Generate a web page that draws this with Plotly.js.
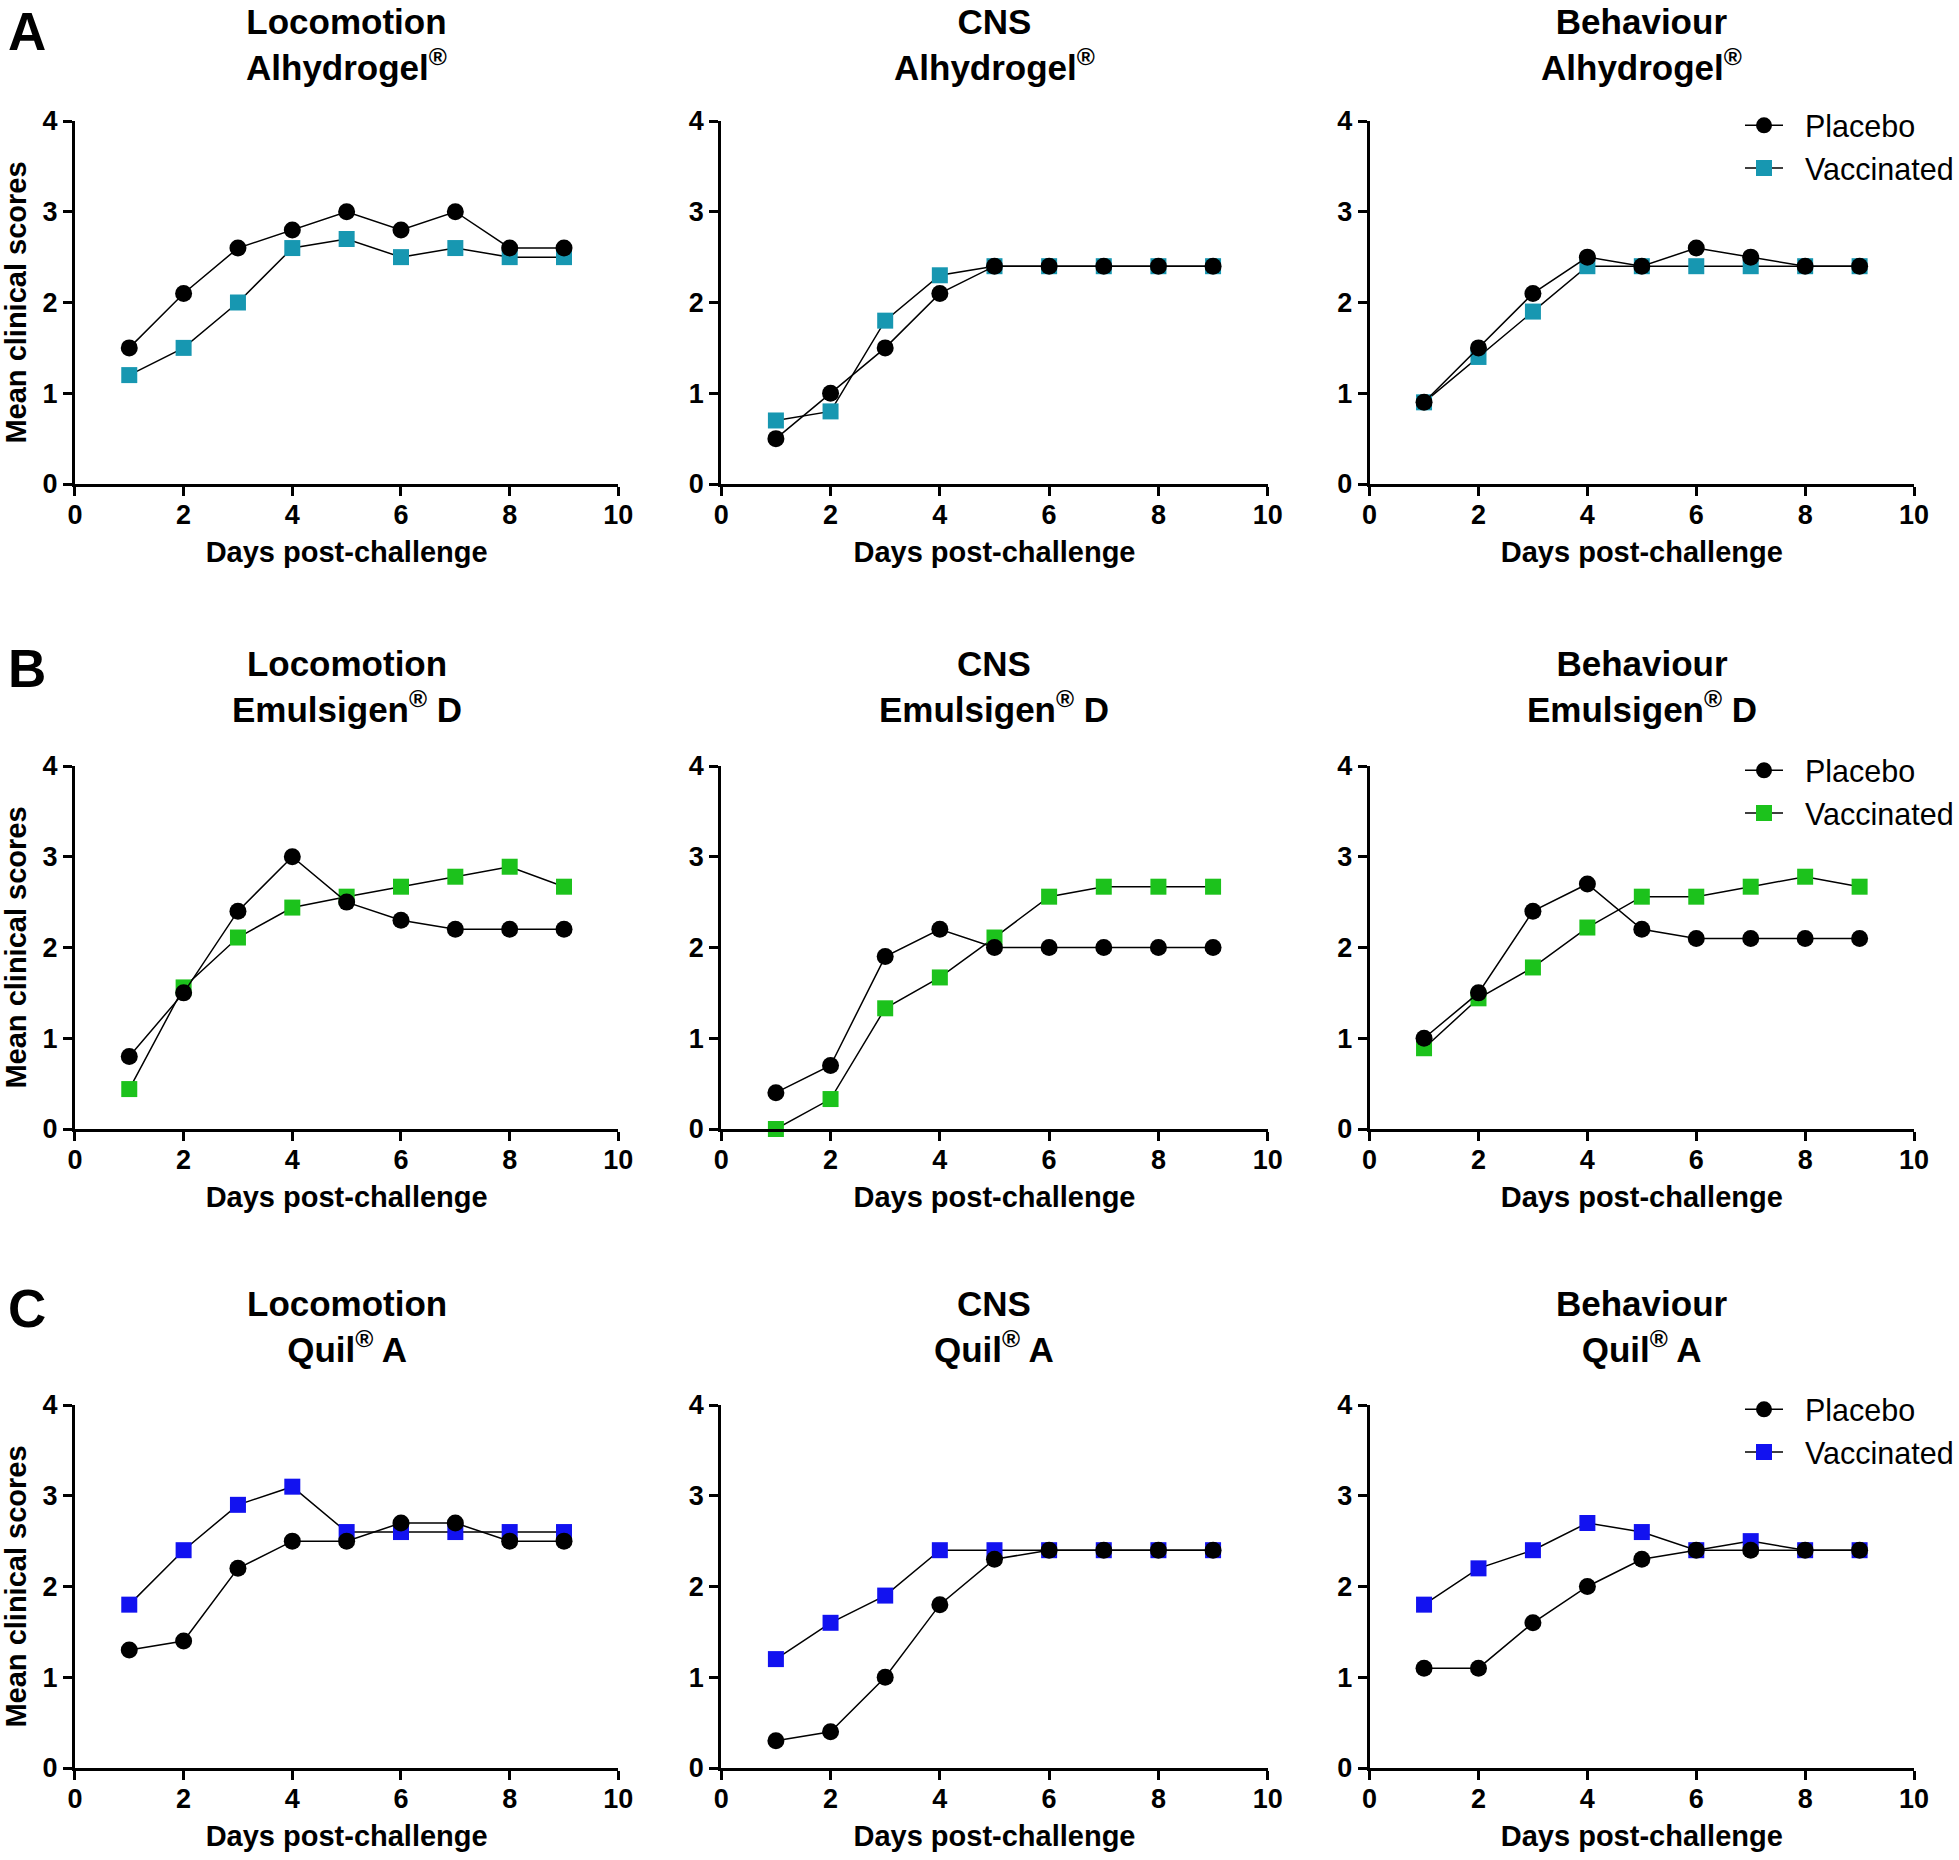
<!DOCTYPE html>
<html>
<head>
<meta charset="utf-8">
<script src="https://cdn.plot.ly/plotly-3.0.1.min.js"></script>
<style>html,body{margin:0;padding:0;background:#fff;}#chart{width:1959px;height:1860px;}</style>
</head>
<body>
<div id="chart"></div>
<script>
// ---- Data ----
const days = [1, 2, 3, 4, 5, 6, 7, 8, 9];
const measures = ['Locomotion', 'CNS', 'Behaviour'];
const adjuvants = ['Alhydrogel<sup>®</sup>', 'Emulsigen<sup>®</sup> D', 'Quil<sup>®</sup> A'];
const panelLetters = ['A', 'B', 'C'];
const seriesNames = ['Placebo', 'Vaccinated'];
const xTicks = [0, 2, 4, 6, 8, 10];
const yTicks = [0, 1, 2, 3, 4];

// Alhydrogel
const locoAlhPlacebo = [1.5, 2.1, 2.6, 2.8, 3.0, 2.8, 3.0, 2.6, 2.6];
const locoAlhVacc    = [1.2, 1.5, 2.0, 2.6, 2.7, 2.5, 2.6, 2.5, 2.5];
const cnsAlhPlacebo  = [0.5, 1.0, 1.5, 2.1, 2.4, 2.4, 2.4, 2.4, 2.4];
const cnsAlhVacc     = [0.7, 0.8, 1.8, 2.3, 2.4, 2.4, 2.4, 2.4, 2.4];
const behAlhPlacebo  = [0.9, 1.5, 2.1, 2.5, 2.4, 2.6, 2.5, 2.4, 2.4];
const behAlhVacc     = [0.9, 1.4, 1.9, 2.4, 2.4, 2.4, 2.4, 2.4, 2.4];
// Emulsigen D
const locoEmuPlacebo = [0.8, 1.5, 2.4, 3.0, 2.5, 2.3, 2.2, 2.2, 2.2];
const locoEmuVacc    = [0.44, 1.56, 2.11, 2.44, 2.56, 2.67, 2.78, 2.89, 2.67];
const cnsEmuPlacebo  = [0.4, 0.7, 1.9, 2.2, 2.0, 2.0, 2.0, 2.0, 2.0];
const cnsEmuVacc     = [0.0, 0.33, 1.33, 1.67, 2.11, 2.56, 2.67, 2.67, 2.67];
const behEmuPlacebo  = [1.0, 1.5, 2.4, 2.7, 2.2, 2.1, 2.1, 2.1, 2.1];
const behEmuVacc     = [0.89, 1.44, 1.78, 2.22, 2.56, 2.56, 2.67, 2.78, 2.67];
// Quil A
const locoQuilPlacebo = [1.3, 1.4, 2.2, 2.5, 2.5, 2.7, 2.7, 2.5, 2.5];
const locoQuilVacc    = [1.8, 2.4, 2.9, 3.1, 2.6, 2.6, 2.6, 2.6, 2.6];
const cnsQuilPlacebo  = [0.3, 0.4, 1.0, 1.8, 2.3, 2.4, 2.4, 2.4, 2.4];
const cnsQuilVacc     = [1.2, 1.6, 1.9, 2.4, 2.4, 2.4, 2.4, 2.4, 2.4];
const behQuilPlacebo  = [1.1, 1.1, 1.6, 2.0, 2.3, 2.4, 2.4, 2.4, 2.4];
const behQuilVacc     = [1.8, 2.2, 2.4, 2.7, 2.6, 2.4, 2.5, 2.4, 2.4];

const placeboData = [
  [locoAlhPlacebo, cnsAlhPlacebo, behAlhPlacebo],
  [locoEmuPlacebo, cnsEmuPlacebo, behEmuPlacebo],
  [locoQuilPlacebo, cnsQuilPlacebo, behQuilPlacebo]
];
const vaccData = [
  [locoAlhVacc, cnsAlhVacc, behAlhVacc],
  [locoEmuVacc, cnsEmuVacc, behEmuVacc],
  [locoQuilVacc, cnsQuilVacc, behQuilVacc]
];

// ---- Styles ----
const vaccColors = ['#1797b1', '#1cc21c', '#1212f0'];
const W = 1959, H = 1860;
const colPx = [[75, 619], [722, 1269], [1371, 1916]];
const rowPx = [[121, 484], [766, 1129], [1405, 1768]];
const titleMidPx = [44, 686.5, 1326];
const letterTopPx = [0, 637, 1277];
const boldFont = 'Liberation Sans, Arial, sans-serif';
const NB = '\u00a0\u00a0';

const traces = [];
const layout = {
  width: W, height: H,
  margin: {l: 0, r: 0, t: 0, b: 0},
  paper_bgcolor: '#fff', plot_bgcolor: '#fff',
  showlegend: true,
  annotations: [],
  font: {family: boldFont, color: '#000'}
};

for (let r = 0; r < 3; r++) {
  for (let c = 0; c < 3; c++) {
    const idx = r * 3 + c + 1;
    const xa = 'x' + (idx === 1 ? '' : idx);
    const ya = 'y' + (idx === 1 ? '' : idx);
    const legendId = c === 2 ? (r === 0 ? 'legend' : 'legend' + (r + 1)) : null;

    traces.push({
      x: days, y: vaccData[r][c], xaxis: xa, yaxis: ya,
      type: 'scatter', mode: 'lines+markers', name: NB + seriesNames[1],
      line: {color: '#000', width: 1.5},
      marker: {symbol: 'square', size: 16, color: vaccColors[r], line: {width: 0}},
      cliponaxis: false, legendgroup: 'v' + idx,
      showlegend: legendId !== null, legend: legendId || 'legend', legendrank: 2
    });
    traces.push({
      x: days, y: placeboData[r][c], xaxis: xa, yaxis: ya,
      type: 'scatter', mode: 'lines+markers', name: NB + seriesNames[0],
      line: {color: '#000', width: 1.5},
      marker: {symbol: 'circle', size: 17, color: '#000', line: {width: 0}},
      cliponaxis: false, legendgroup: 'p' + idx,
      showlegend: legendId !== null, legend: legendId || 'legend', legendrank: 1
    });

    const common = {
      showline: true, linewidth: 3, linecolor: '#000',
      ticks: 'outside', ticklen: 9, tickwidth: 3, tickcolor: '#000',
      showgrid: false, zeroline: false, fixedrange: true,
      tickfont: {family: boldFont, size: 27, color: '#000', weight: 700}
    };
    layout['xaxis' + (idx === 1 ? '' : idx)] = Object.assign({}, common, {
      domain: [colPx[c][0] / W, colPx[c][1] / W],
      anchor: ya, range: [0, 10], tickvals: xTicks, ticktext: xTicks.map(String),
      ticklabelstandoff: -4,
      title: {text: '<b>Days post-challenge</b>', font: {family: boldFont, size: 29, color: '#000'}, standoff: 13}
    });
    const yax = Object.assign({}, common, {
      domain: [1 - rowPx[r][1] / H, 1 - rowPx[r][0] / H],
      anchor: xa, range: [0, 4], tickvals: yTicks, ticktext: yTicks.map(String)
    });
    if (c === 0) {
      yax.title = {text: '<b>Mean clinical scores</b>', font: {family: boldFont, size: 29, color: '#000'}, standoff: 14};
    }
    layout['yaxis' + (idx === 1 ? '' : idx)] = yax;

    layout.annotations.push({
      xref: 'paper', yref: 'paper',
      x: (colPx[c][0] + colPx[c][1]) / 2 / W, y: 1 - titleMidPx[r] / H,
      xanchor: 'center', yanchor: 'middle', showarrow: false,
      text: '<b>' + measures[c] + '</b><br><b>' + adjuvants[r] + '</b>',
      font: {family: boldFont, size: 35, color: '#000'}
    });
    if (legendId) {
      layout[legendId] = {
        x: 1742 / W, y: 1 - (rowPx[r][0] - 22) / H, xanchor: 'left', yanchor: 'top',
        bgcolor: 'rgba(0,0,0,0)', borderwidth: 0,
        font: {family: boldFont, size: 30.5, color: '#000'},
        traceorder: 'grouped', itemwidth: 38, tracegroupgap: 0
      };
    }
  }
  layout.annotations.push({
    xref: 'paper', yref: 'paper', x: 6 / W, y: 1 - letterTopPx[r] / H,
    xanchor: 'left', yanchor: 'top', showarrow: false,
    text: '<b>' + panelLetters[r] + '</b>',
    font: {family: boldFont, size: 53, color: '#000'}
  });
}

Plotly.newPlot('chart', traces, layout, {displayModeBar: false, staticPlot: true});
</script>
</body>
</html>
